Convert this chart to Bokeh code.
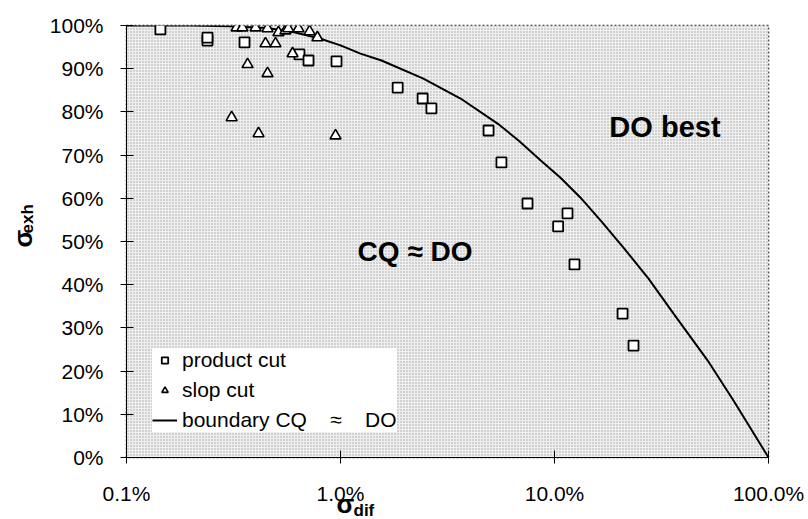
from bokeh.plotting import figure
from bokeh.models import (Range1d, FixedTicker, Label, BoxAnnotation, Legend,
                          LegendItem, ColumnDataSource)
from bokeh.embed import file_html
from bokeh.resources import INLINE

# product cut: sigma_dif (%) vs sigma_exh (%)
product_dif = [0.144, 0.239, 0.239, 0.356, 0.643, 0.709, 0.958, 1.85, 2.42, 2.66,
               4.92, 5.65, 7.48, 11.5, 10.4, 12.4, 20.8, 23.4]
product_exh = [99.1, 96.5, 97.2, 96.1, 93.3, 91.9, 91.7, 85.6, 83.1, 80.8,
               75.7, 68.3, 58.8, 56.5, 53.5, 44.7, 33.3, 25.9]

# slop cut
slop_dif = [0.327, 0.348, 0.401, 0.456, 0.513, 0.553, 0.570, 0.636, 0.717, 0.780,
            0.446, 0.497, 0.597, 0.368, 0.456, 0.310, 0.414, 0.948]
slop_exh = [99.5, 99.5, 99.5, 99.3, 98.4, 98.8, 99.3, 99.3, 98.6, 97.2,
            95.8, 95.8, 93.5, 91.0, 88.9, 78.7, 75.0, 74.5]

# boundary where CQ and DO perform alike
boundary_dif = [0.1, 0.2, 0.3, 0.456, 0.6, 0.8, 1.0, 1.24, 1.555, 2.44, 3.64,
                5.42, 6.79, 8.6, 10.7, 13.2, 16.6, 21.0, 27.5, 36.0, 51.9,
                68.6, 100.0]
boundary_exh = [100.0, 100.0, 99.8, 99.4, 98.5, 97.0, 95.4, 93.5, 91.9, 87.7,
                83.1, 77.3, 73.4, 68.8, 64.7, 60.2, 54.6, 48.6, 41.4, 33.3,
                22.5, 13.2, 0.0]

x_ticks = [0.1, 1.0, 10.0, 100.0]
x_tick_labels = ["0.1%", "1.0%", "10.0%", "100.0%"]
y_ticks = [0, 10, 20, 30, 40, 50, 60, 70, 80, 90, 100]
y_tick_labels = [f"{v}%" for v in y_ticks]

FONT = "Liberation Sans"

def frac(vals):
    return [v / 100.0 for v in vals]

p = figure(width=808, height=519, x_axis_type="log",
           x_range=Range1d(0.001, 1.0), y_range=Range1d(0.0, 1.0),
           output_backend="svg", toolbar_location=None,
           min_border_left=126, min_border_right=40,
           min_border_top=25, min_border_bottom=62)

p.background_fill_color = "white"
p.border_fill_color = "white"
p.outline_line_color = "#222222"
p.outline_line_dash = "2 2"
p.outline_line_width = 1.5
p.grid.visible = False

# stippled plot area
p.add_layout(BoxAnnotation(fill_color="#efefef", fill_alpha=1.0,
                           hatch_pattern="dot", hatch_color="#a4a4a4",
                           hatch_scale=3, hatch_weight=1,
                           line_color=None, level="underlay"))

# axes
for ax in (p.xaxis[0], p.yaxis[0]):
    ax.axis_line_color = "black"
    ax.major_tick_line_color = "black"
    ax.major_tick_in = 7
    ax.major_tick_out = 6
    ax.minor_tick_line_color = None
    ax.major_label_text_font = FONT
    ax.major_label_text_font_size = "21px"
    ax.major_label_text_color = "black"

p.xaxis.ticker = FixedTicker(ticks=frac(x_ticks))
p.xaxis.major_label_overrides = {v / 100.0: s for v, s in zip(x_ticks, x_tick_labels)}
p.xaxis.major_label_standoff = 18
p.yaxis.ticker = FixedTicker(ticks=frac(y_ticks))
p.yaxis.major_label_overrides = {v / 100.0: s for v, s in zip(y_ticks, y_tick_labels)}
p.yaxis.major_label_standoff = 17

src_b = ColumnDataSource(dict(x=frac(boundary_dif), y=frac(boundary_exh)))
src_p = ColumnDataSource(dict(x=frac(product_dif), y=frac(product_exh)))
src_s = ColumnDataSource(dict(x=frac(slop_dif), y=frac(slop_exh)))

r_line = p.line("x", "y", source=src_b, line_color="black", line_width=2)
r_sq = p.scatter("x", "y", source=src_p, marker="square", size=10,
                 fill_color="white", line_color="black", line_width=1.8)
r_tri = p.scatter("x", "y", source=src_s, marker="triangle", size=11,
                  fill_color="white", line_color="black", line_width=1.6)

legend = Legend(items=[LegendItem(label="product cut", renderers=[r_sq]),
                       LegendItem(label="slop cut", renderers=[r_tri]),
                       LegendItem(label="boundary CQ    \u2248    DO", renderers=[r_line])],
                location=(26, 25), label_text_font=FONT,
                label_text_font_size="21px", label_text_color="black",
                glyph_width=25, glyph_height=16, label_height=22,
                spacing=6, padding=8, margin=0,
                border_line_color=None, background_fill_color="white",
                background_fill_alpha=1.0)
p.add_layout(legend, "center")

# region texts
p.add_layout(Label(x=0.597, y=0.729, text="DO best", text_align="right",
                   text_font=FONT, text_font_size="29px", text_font_style="bold",
                   text_color="black"))
p.add_layout(Label(x=0.0414, y=0.44, text="CQ \u2248 DO", text_align="right",
                   text_font=FONT, text_font_size="28px", text_font_style="bold",
                   text_color="black"))

# axis titles with subscripts: canvas-pixel labels kept in the side panels
# (outside the plot frame, so they are not clipped by it)
def title_part(x, y, text, size, angle=0.0):
    return Label(x=x, y=y, x_units="canvas", y_units="canvas", text=text,
                 angle=angle, text_font=FONT, text_font_size=size,
                 text_font_style="bold", text_color="black",
                 text_baseline="alphabetic", text_align="left")

p.add_layout(title_part(336, 503, "\u03c3", "26px"), "right")
p.add_layout(title_part(353, 510, "dif", "17px"), "right")
p.add_layout(title_part(22, 247, "\u03c3", "26px", 1.5708), "above")
p.add_layout(title_part(27, 233, "exh", "17px", 1.5708), "left")

open("out.html", "w").write(file_html(p, INLINE))
